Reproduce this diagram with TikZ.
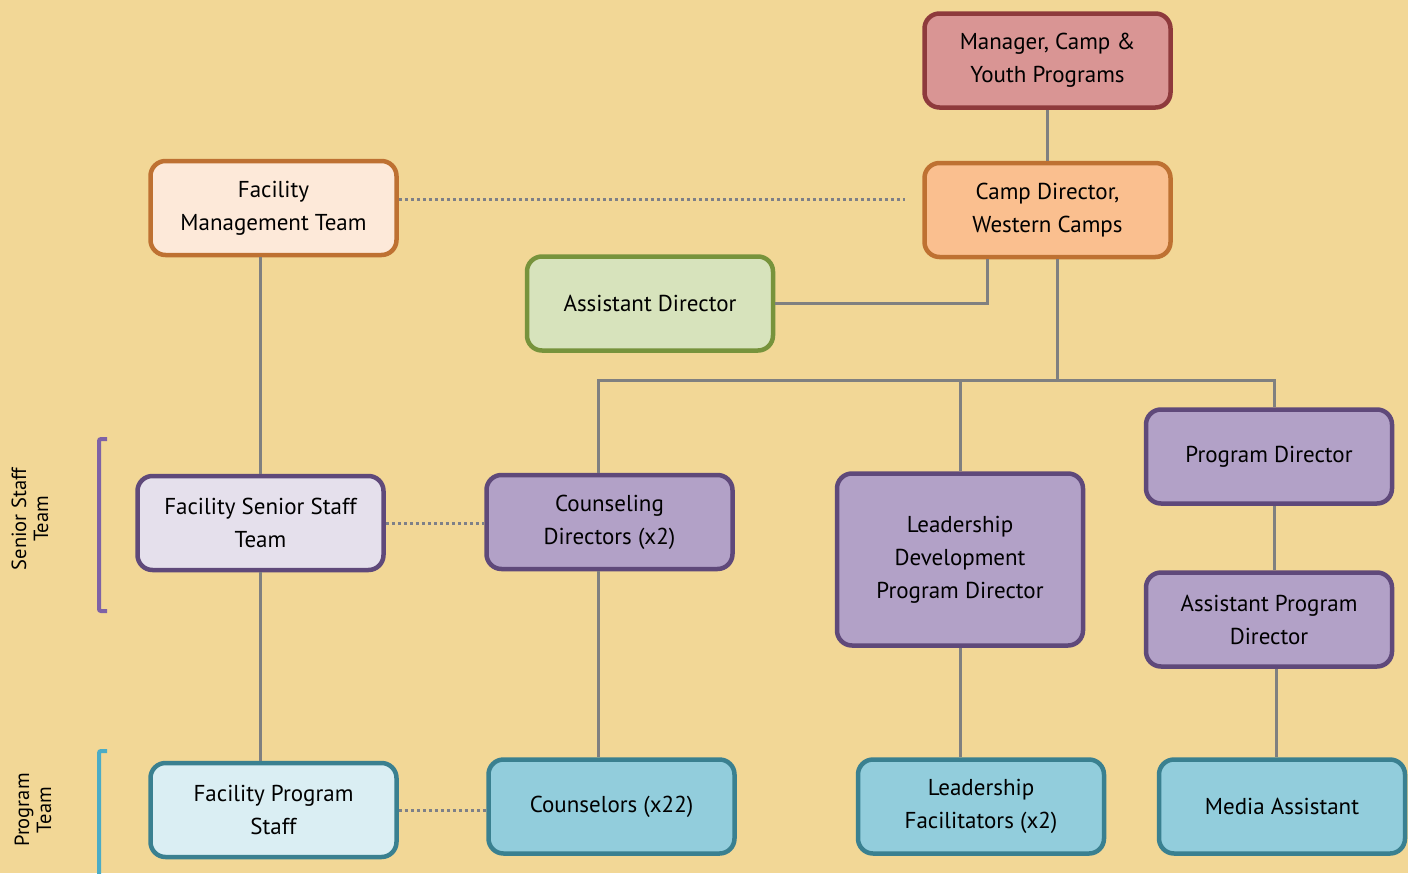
\documentclass[tikz,border=0pt]{standalone}
\usepackage{fontspec}
\setmainfont{PT Sans}
\usetikzlibrary{calc}
\definecolor{bg}{HTML}{F2D796}
\definecolor{lnk}{HTML}{808080}
\definecolor{dotc}{HTML}{7E8088}
\definecolor{mgrF}{HTML}{D99594}\definecolor{mgrD}{HTML}{8E3A3C}
\definecolor{cdF}{HTML}{FABF8F}\definecolor{orD}{HTML}{BE7132}
\definecolor{fmtF}{HTML}{FDE9D9}
\definecolor{adF}{HTML}{D7E3BC}\definecolor{adD}{HTML}{77933C}
\definecolor{lpF}{HTML}{E5E0EC}\definecolor{puD}{HTML}{5F497A}
\definecolor{puF}{HTML}{B2A1C7}
\definecolor{lbF}{HTML}{DAEEF3}\definecolor{blD}{HTML}{3A8090}
\definecolor{blF}{HTML}{92CDDC}
\definecolor{brP}{HTML}{7E62A6}\definecolor{brB}{HTML}{4BACC6}
\begin{document}
\begin{tikzpicture}[x=1pt,y=-1pt,
  box/.style={draw, line width=4.5pt, rounded corners=15pt, minimum width=246pt,
    minimum height=94pt, align=center, inner sep=2pt,
    font=\fontsize{23}{33}\selectfont, text=black},
  conn/.style={draw=lnk, line width=3pt},
  dotln/.style={draw=dotc, line width=3pt, dash pattern=on 3pt off 3pt},
  brk/.style={line width=4pt, rounded corners=2pt},
  side/.style={rotate=90, align=center, font=\fontsize{20.5}{22}\selectfont}]
\fill[bg] (0,0) rectangle (1408,873);
\useasboundingbox (0,0) rectangle (1408,873);

\node[box, fill=mgrF, draw=mgrD] (mgr) at (1047.5,60.5) {Manager, Camp \&\\Youth Programs};
\node[box, fill=cdF, draw=orD] (cd) at (1047.5,210) {Camp Director,\\Western Camps};
\node[box, fill=fmtF, draw=orD] (fmt) at (273.5,208) {Facility\\Management Team};
\node[box, fill=adF, draw=adD] (ad) at (650,303.5) {Assistant Director};
\node[box, fill=lpF, draw=puD] (fsst) at (260.5,523) {Facility Senior Staff\\Team};
\node[box, fill=puF, draw=puD] (cdir) at (609.5,522) {Counseling\\Directors (x2)};
\node[box, fill=puF, draw=puD, minimum height=172pt] (ld) at (960,559.5) {Leadership\\Development\\Program Director};
\node[box, fill=puF, draw=puD] (pd) at (1269,456.5) {Program Director};
\node[box, fill=puF, draw=puD] (apd) at (1269,619.5) {Assistant Program\\Director};
\node[box, fill=lbF, draw=blD] (fps) at (273.5,810) {Facility Program\\Staff};
\node[box, fill=blF, draw=blD] (cnsl) at (611.5,806.5) {Counselors (x22)};
\node[box, fill=blF, draw=blD] (lf) at (981,806.5) {Leadership\\Facilitators (x2)};
\node[box, fill=blF, draw=blD] (ma) at (1282,806.5) {Media Assistant};

\coordinate (bus) at (1057.5,380);
\coordinate (dotend) at (905,199);

\draw[conn] (mgr.south) -- (cd.north);
\draw[conn] ([xshift=-60.5pt]cd.south) |- (ad.east);
\draw[conn] ([xshift=10pt]cd.south) -- (bus);
\draw[conn] ([xshift=-11.5pt]cdir.north) |- (bus) -| ([xshift=5pt]pd.north);
\draw[conn] (ld.north |- bus) -- (ld.north);
\draw[conn] (fsst.north |- fmt.south) -- (fsst.north);
\draw[conn] (fsst.south) -- (fsst.south |- fps.north);
\draw[conn] ([xshift=-11.5pt]cdir.south) -- ([xshift=-11.5pt]cdir.south |- cnsl.north);
\draw[conn] (ld.south) -- (ld.south |- lf.north);
\draw[conn] ([xshift=5pt]pd.south) -- ([xshift=5pt]apd.north);
\draw[conn] ([xshift=7pt]apd.south) -- ([xshift=7pt]apd.south |- ma.north);

\draw[dotln] ([yshift=9pt]fmt.east) -- (dotend);
\draw[dotln] (fsst.east) -- (fsst.east -| cdir.west);
\draw[dotln] (fps.east) -- (fps.east -| cnsl.west);

\draw[brk, draw=brP] (107,439) -| (99,611) -- (107,611);
\draw[brk, draw=brB] (107,751) -| (99,880);

\node[side] (sst) at (30,519) {Senior Staff\\Team};
\node[side] (ptm) at (33,810) {Program\\Team};
\end{tikzpicture}
\end{document}
